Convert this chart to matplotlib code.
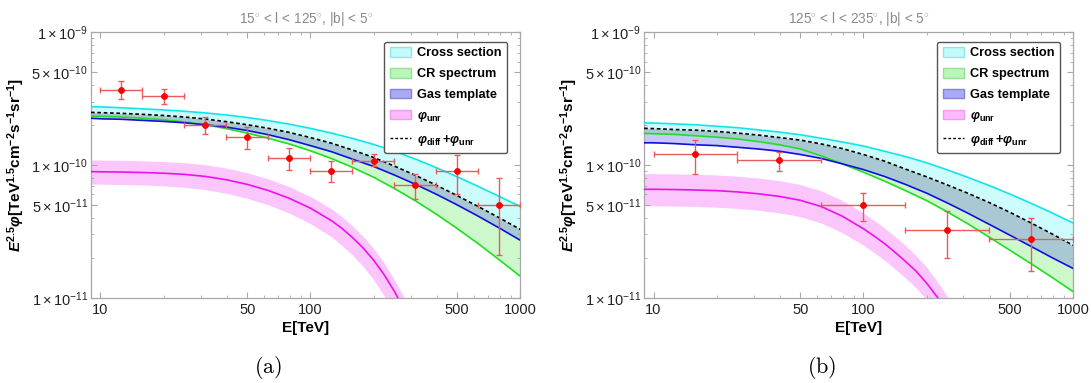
import numpy as np
import matplotlib
matplotlib.use("Agg")
import matplotlib.pyplot as plt
from matplotlib.patches import Patch
from matplotlib.lines import Line2D
from matplotlib.ticker import FixedLocator, NullFormatter

plt.rcParams['font.family'] = ['Liberation Sans', 'DejaVu Sans']
plt.rcParams['mathtext.fontset'] = 'custom'
plt.rcParams['mathtext.rm'] = 'Liberation Sans'
plt.rcParams['mathtext.it'] = 'Liberation Sans:italic'
plt.rcParams['mathtext.bf'] = 'Liberation Sans:bold'
try:
    plt.rcParams['mathtext.bfit'] = 'Liberation Sans:italic:bold'
except KeyError:
    pass

# ---------------- shared energy grid (TeV) ----------------
E_grid = [9.02, 10, 12.6, 15.8, 20, 25.1, 31.6, 39.8, 50.1, 63.1, 79.4, 100,
          126, 158, 200, 251, 316, 398, 501, 631, 794, 1000]

# ---------------- data: panel (a) ----------------
cross_a = [2.75e-10, 2.74e-10, 2.70e-10, 2.65e-10, 2.60e-10, 2.54e-10, 2.47e-10,
           2.38e-10, 2.28e-10, 2.16e-10, 2.03e-10, 1.89e-10, 1.74e-10, 1.59e-10,
           1.43e-10, 1.27e-10, 1.11e-10, 9.55e-11, 8.15e-11, 6.89e-11, 5.80e-11, 4.86e-11]
total_a = [2.49e-10, 2.48e-10, 2.45e-10, 2.41e-10, 2.36e-10, 2.30e-10, 2.22e-10,
           2.12e-10, 2.01e-10, 1.89e-10, 1.76e-10, 1.61e-10, 1.46e-10, 1.30e-10,
           1.14e-10, 9.82e-11, 8.37e-11, 7.05e-11, 5.87e-11, 4.86e-11, 4.00e-11, 3.27e-11]
crspec_a = [2.34e-10, 2.33e-10, 2.30e-10, 2.25e-10, 2.19e-10, 2.11e-10, 2.01e-10,
            1.88e-10, 1.74e-10, 1.59e-10, 1.44e-10, 1.28e-10, 1.12e-10, 9.63e-11,
            8.09e-11, 6.66e-11, 5.38e-11, 4.26e-11, 3.32e-11, 2.55e-11, 1.93e-11, 1.45e-11]
gas_a = [2.25e-10, 2.23e-10, 2.21e-10, 2.17e-10, 2.13e-10, 2.08e-10, 2.01e-10,
         1.93e-10, 1.82e-10, 1.69e-10, 1.55e-10, 1.40e-10, 1.26e-10, 1.11e-10,
         9.75e-11, 8.41e-11, 7.16e-11, 6.02e-11, 5.00e-11, 4.11e-11, 3.35e-11, 2.71e-11]

Eu_a = [9.02, 10, 12.6, 15.8, 20, 25.1, 31.6, 39.8, 50.1, 63.1, 79.4, 100,
        126, 141, 158, 178, 200, 224, 251, 282, 316]
unr_a = [8.91e-11, 8.89e-11, 8.85e-11, 8.78e-11, 8.67e-11, 8.50e-11, 8.20e-11,
         7.74e-11, 7.14e-11, 6.42e-11, 5.61e-11, 4.73e-11, 3.81e-11, 3.34e-11,
         2.86e-11, 2.38e-11, 1.92e-11, 1.50e-11, 1.12e-11, 7.99e-12, 5.41e-12]
unr_hi_a = [1.091e-10, 1.089e-10, 1.084e-10, 1.075e-10, 1.062e-10, 1.041e-10, 1.004e-10,
            9.48e-11, 8.74e-11, 7.86e-11, 6.87e-11, 5.79e-11, 4.67e-11, 4.09e-11,
            3.50e-11, 2.91e-11, 2.35e-11, 1.84e-11, 1.37e-11, 9.78e-12, 6.63e-12]
unr_lo_a = [7.19e-11, 7.17e-11, 7.13e-11, 7.07e-11, 6.97e-11, 6.80e-11, 6.52e-11,
            6.12e-11, 5.61e-11, 5.01e-11, 4.34e-11, 3.62e-11, 2.88e-11, 2.49e-11,
            2.11e-11, 1.73e-11, 1.37e-11, 1.04e-11, 7.63e-12, 5.31e-12, 3.52e-12]

pts_E_a = [12.6, 20, 31.6, 50, 79.4, 126, 200, 316, 501, 794]
pts_Elo_a = [10, 15.8, 25.1, 39.8, 63.1, 100, 158, 251, 398, 631]
pts_Ehi_a = [15.8, 25.1, 39.8, 63.1, 100, 158, 251, 398, 631, 1000]
pts_y_a = [3.67e-10, 3.30e-10, 2.01e-10, 1.63e-10, 1.13e-10, 9.0e-11, 1.08e-10,
           7.1e-11, 9.0e-11, 5.0e-11]
pts_yhi_a = [4.28e-10, 3.77e-10, 2.31e-10, 1.92e-10, 1.34e-10, 1.07e-10, 1.22e-10,
             8.6e-11, 1.18e-10, 8.0e-11]
pts_ylo_a = [3.12e-10, 2.86e-10, 1.72e-10, 1.32e-10, 9.1e-11, 7.45e-11, 9.8e-11,
             5.5e-11, 6.0e-11, 2.1e-11]

# ---------------- data: panel (b) ----------------
cross_b = [2.08e-10, 2.07e-10, 2.04e-10, 2.01e-10, 1.96e-10, 1.91e-10, 1.84e-10,
           1.77e-10, 1.69e-10, 1.59e-10, 1.49e-10, 1.39e-10, 1.27e-10, 1.16e-10,
           1.04e-10, 9.19e-11, 8.05e-11, 7.00e-11, 6.03e-11, 5.14e-11, 4.35e-11, 3.65e-11]
total_b = [1.89e-10, 1.88e-10, 1.85e-10, 1.83e-10, 1.79e-10, 1.74e-10, 1.68e-10,
           1.61e-10, 1.54e-10, 1.44e-10, 1.33e-10, 1.20e-10, 1.07e-10, 9.34e-11,
           8.15e-11, 7.08e-11, 6.11e-11, 5.21e-11, 4.39e-11, 3.65e-11, 3.02e-11, 2.48e-11]
crspec_b = [1.73e-10, 1.72e-10, 1.70e-10, 1.66e-10, 1.62e-10, 1.57e-10, 1.50e-10,
            1.42e-10, 1.32e-10, 1.17e-10, 1.02e-10, 8.83e-11, 7.57e-11, 6.43e-11,
            5.40e-11, 4.44e-11, 3.59e-11, 2.86e-11, 2.27e-11, 1.80e-11, 1.42e-11, 1.11e-11]
gas_b = [1.47e-10, 1.47e-10, 1.45e-10, 1.42e-10, 1.40e-10, 1.36e-10, 1.32e-10,
         1.27e-10, 1.20e-10, 1.12e-10, 1.02e-10, 9.24e-11, 8.20e-11, 7.16e-11,
         6.14e-11, 5.18e-11, 4.32e-11, 3.57e-11, 2.95e-11, 2.43e-11, 2.00e-11, 1.66e-11]

Eu_b = [9.02, 10, 12.6, 15.8, 20, 25.1, 31.6, 39.8, 50.1, 63.1, 79.4, 100,
        112, 126, 141, 158, 178, 200, 224, 251, 282]
unr_b = [6.56e-11, 6.56e-11, 6.53e-11, 6.48e-11, 6.41e-11, 6.27e-11, 6.07e-11,
         5.80e-11, 5.42e-11, 4.86e-11, 4.11e-11, 3.31e-11, 2.93e-11, 2.56e-11,
         2.21e-11, 1.89e-11, 1.59e-11, 1.29e-11, 1.02e-11, 7.80e-12, 5.73e-12]
unr_hi_b = [8.61e-11, 8.61e-11, 8.57e-11, 8.51e-11, 8.41e-11, 8.23e-11, 7.97e-11,
            7.62e-11, 7.12e-11, 6.37e-11, 5.40e-11, 4.35e-11, 3.84e-11, 3.36e-11,
            2.90e-11, 2.49e-11, 2.08e-11, 1.70e-11, 1.34e-11, 1.02e-11, 7.52e-12]
unr_lo_b = [4.93e-11, 4.93e-11, 4.91e-11, 4.87e-11, 4.81e-11, 4.71e-11, 4.56e-11,
            4.36e-11, 4.08e-11, 3.65e-11, 3.09e-11, 2.49e-11, 2.20e-11, 1.92e-11,
            1.66e-11, 1.42e-11, 1.19e-11, 9.73e-12, 7.68e-12, 5.86e-12, 4.31e-12]

pts_E_b = [15.8, 39.8, 100, 251, 631]
pts_Elo_b = [10, 25.1, 63.1, 158, 398]
pts_Ehi_b = [25.1, 63.1, 158, 398, 1000]
pts_y_b = [1.20e-10, 1.10e-10, 4.97e-11, 3.24e-11, 2.79e-11]
pts_yhi_b = [1.53e-10, 1.26e-10, 6.1e-11, 4.48e-11, 4.01e-11]
pts_ylo_b = [8.5e-11, 8.96e-11, 3.76e-11, 1.98e-11, 1.59e-11]

titles = [r"15$^{\circ}$ < l < 125$^{\circ}$, |b| < 5$^{\circ}$",
          r"125$^{\circ}$ < l < 235$^{\circ}$, |b| < 5$^{\circ}$"]
captions = ["(a)", "(b)"]
x_ticks = [10, 50, 100, 500, 1000]
x_tick_labels = ["10", "50", "100", "500", "1000"]
y_ticks = [1e-11, 5e-11, 1e-10, 5e-10, 1e-9]
y_tick_labels = [r"$1\times10^{-11}$", r"$5\times10^{-11}$", r"$1\times10^{-10}$",
                 r"$5\times10^{-10}$", r"$1\times10^{-9}$"]
legend_labels = ["Cross section", "CR spectrum", "Gas template",
                 r"$\mathbfit{\varphi}_{\mathbf{unr}}$",
                 r"$\mathbfit{\varphi}_{\mathbf{diff}}\,\mathbf{+}\mathbfit{\varphi}_{\mathbf{unr}}$"]

# ---------------- styles ----------------
C_CYAN_FILL = '#ccfcfc'
C_GREEN_FILL = '#ccf8cc'
C_BLUE_FILL = '#c8c8fa'
C_GRAY_FILL = '#a8c9d3'
C_MAG_FILL = '#fbc6fb'
C_CYAN = '#12e4ec'
C_GREEN = '#22dd22'
C_BLUE = '#1010dd'
C_MAG = '#ee10ee'
FRAME = '#a8a8a8'

fig = plt.figure(figsize=(10.91, 3.83), dpi=100)
positions = [[0.0835, 0.2227, 0.3934, 0.693], [0.5905, 0.2227, 0.3932, 0.693]]

panels = [
    (cross_a, total_a, crspec_a, gas_a, Eu_a, unr_a, unr_hi_a, unr_lo_a,
     pts_E_a, pts_Elo_a, pts_Ehi_a, pts_y_a, pts_yhi_a, pts_ylo_a),
    (cross_b, total_b, crspec_b, gas_b, Eu_b, unr_b, unr_hi_b, unr_lo_b,
     pts_E_b, pts_Elo_b, pts_Ehi_b, pts_y_b, pts_yhi_b, pts_ylo_b),
]
cap_x = [0.2456, 0.7533]

for i, p in enumerate(panels):
    (cs, tot, cr, gas, Eu, un, unh, unl, pE, pElo, pEhi, py, pyhi, pylo) = p
    E = np.array(E_grid); cs = np.array(cs); tot = np.array(tot)
    cr = np.array(cr); gas = np.array(gas)
    ax = fig.add_axes(positions[i])
    ax.set_xscale('log'); ax.set_yscale('log')

    top_lo = np.maximum(cr, gas)
    ax.fill_between(E, tot, cs, color=C_CYAN_FILL, lw=0, zorder=1)
    ax.fill_between(E, top_lo, tot, color=C_GRAY_FILL, lw=0, zorder=1)
    ax.fill_between(E, cr, gas, where=cr <= gas, interpolate=True,
                    color=C_GREEN_FILL, lw=0, zorder=1)
    ax.fill_between(E, gas, cr, where=gas <= cr, interpolate=True,
                    color=C_BLUE_FILL, lw=0, zorder=1)
    ax.fill_between(Eu, unl, unh, color=C_MAG_FILL, lw=0, zorder=1)

    ax.plot(Eu, un, color=C_MAG, lw=1.2, zorder=3)
    ax.plot(E, cr, color=C_GREEN, lw=1.2, zorder=3)
    ax.plot(E, gas, color=C_BLUE, lw=1.2, zorder=3)
    ax.plot(E, cs, color=C_CYAN, lw=1.2, zorder=3)
    ax.plot(E, tot, color='black', lw=1.2, ls=(0, (2.2, 1.6)), zorder=4)

    pE = np.array(pE); py = np.array(py)
    xerr = [pE - np.array(pElo), np.array(pEhi) - pE]
    yerr = [py - np.array(pylo), np.array(pyhi) - py]
    ax.errorbar(pE, py, xerr=xerr, yerr=yerr, fmt='none', ecolor='#ec5a5a',
                elinewidth=1.0, capsize=2.2, capthick=1.0, zorder=5)
    ax.plot(pE, py, 'o', color='#ff0000', ms=4.3, mec='#ee0000', mew=0.5, zorder=6)

    ax.set_xlim(9.03, 1000)
    ax.set_ylim(1e-11, 1e-9)
    ax.xaxis.set_major_locator(FixedLocator(x_ticks))
    ax.set_xticklabels(x_tick_labels)
    xminor = [m * d for d in (10, 100) for m in range(1, 10) if m not in (1, 5)]
    ax.xaxis.set_minor_locator(FixedLocator(xminor))
    ax.xaxis.set_minor_formatter(NullFormatter())
    ax.yaxis.set_major_locator(FixedLocator(y_ticks))
    ax.set_yticklabels(y_tick_labels)
    yminor = [m * d for d in (1e-11, 1e-10) for m in range(2, 10) if m != 5]
    ax.yaxis.set_minor_locator(FixedLocator(yminor))
    ax.yaxis.set_minor_formatter(NullFormatter())

    for s in ax.spines.values():
        s.set_color(FRAME); s.set_linewidth(0.9)
    ax.tick_params(which='both', direction='in', top=True, right=True,
                   color=FRAME, labelcolor='#222222', labelsize=10.5)
    ax.tick_params(which='major', length=4.5, width=0.8)
    ax.tick_params(which='minor', length=2.5, width=0.6)
    ax.tick_params(axis='x', pad=4)
    ax.tick_params(axis='y', pad=2)

    ax.set_xlabel("E[TeV]", fontsize=11, fontweight='bold', labelpad=3)
    ax.set_ylabel(r"$\mathbfit{E}^{\mathbf{2.5}}\mathbfit{\varphi}\mathbf{[TeV^{1.5}cm^{-2}s^{-1}sr^{-1}]}$",
                  fontsize=11, labelpad=3)

    x0, y0, w, h = positions[i]
    fig.text(x0 + w / 2, 0.950, titles[i], color='#8a8a8a', fontsize=9.8,
             ha='center', va='center')
    fig.text(cap_x[i], 0.040, r"$\mathrm{" + captions[i] + "}$", fontsize=16,
             ha='center', va='center', math_fontfamily='cm')

    handles = [Patch(facecolor='#c4fafa', edgecolor='#8ee6e6', lw=1.0),
               Patch(facecolor='#baf6ba', edgecolor='#92e292', lw=1.0),
               Patch(facecolor='#aaaaf2', edgecolor='#8484dc', lw=1.0),
               Patch(facecolor='#fcbafc', edgecolor='#f29af2', lw=1.0),
               Line2D([], [], color='black', lw=1.0, ls=(0, (2, 1.5)))]
    leg = ax.legend(handles, legend_labels, loc='upper right',
                    bbox_to_anchor=(0.970, 0.965), borderaxespad=0,
                    prop={'weight': 'bold', 'size': 9.2}, handlelength=1.65,
                    handleheight=0.75, handletextpad=0.5, labelspacing=0.68,
                    borderpad=0.45, fancybox=True, framealpha=1)
    leg.get_frame().set_edgecolor('#555555')
    leg.get_frame().set_linewidth(1.0)
    leg.set_zorder(10)

fig.savefig('out.png', dpi=100)
